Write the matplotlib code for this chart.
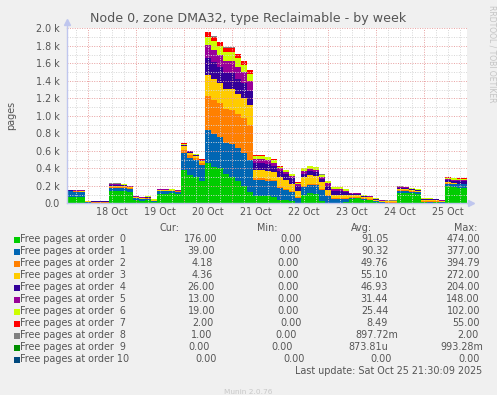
import numpy as np
import matplotlib
matplotlib.use("Agg")
import matplotlib.pyplot as plt
from matplotlib.patches import Rectangle

W, H = 497, 395

# samples every 3 hours, hours counted from 17 Oct 00:00
start_hour = 13.5
step_hours = 3

order0 = [75, 72, 70,
          5, 3, 4, 5,
          140, 138, 135, 130,
          35, 30, 35, 15,
          110, 112, 115, 110,
          380, 320, 300, 260,
          460, 420, 400, 330, 300, 250, 200, 130,
          80, 85, 80, 75,
          40, 35, 25, 5,
          100, 115, 110,
          30, 5, 5, 5, 20,
          50, 55, 40, 35, 15, 5, 3, 4,
          120, 120, 115, 110,
          10, 8, 10, 5,
          195, 190, 180, 176]
order1 = [60, 58, 55,
          5, 4, 5, 4,
          40, 42, 40, 35,
          20, 15, 15, 8,
          25, 25, 22, 20,
          195, 200, 190, 180,
          377, 370, 360, 360, 380, 380, 380, 370,
          190, 185, 180, 175,
          140, 120, 100, 60,
          90, 95, 95,
          120, 80, 40, 45, 30,
          10, 10, 8, 8, 8, 5, 4, 5,
          20, 18, 15, 15,
          8, 8, 8, 5,
          30, 30, 35, 39]
order2 = [5, 5, 6,
          6, 5, 6, 4,
          10, 10, 10, 8,
          8, 6, 8, 5,
          6, 5, 5, 5,
          35, 30, 25, 20,
          394.79, 390, 385, 390, 390, 390, 390, 390,
          15, 20, 20, 15,
          10, 10, 10, 10,
          10, 12, 12,
          10, 10, 10, 10, 10,
          10, 12, 10, 10, 8, 8, 6, 7,
          10, 10, 10, 8,
          10, 10, 10, 8,
          8, 6, 5, 4.18]
order3 = [4, 5, 6,
          8, 6, 5, 6,
          12, 12, 10, 10,
          8, 8, 8, 8,
          6, 6, 5, 5,
          40, 30, 25, 20,
          240, 240, 235, 230, 240, 230, 230, 230,
          95, 95, 90, 90,
          110, 100, 90, 70,
          100, 105, 100,
          80, 60, 40, 40, 35,
          20, 20, 12, 15, 12, 8, 10, 8,
          15, 15, 12, 10,
          15, 15, 12, 10,
          8, 6, 5, 4.36]
order4 = [6, 5, 6,
          2, 3, 2, 3,
          10, 10, 10, 8,
          6, 5, 5, 3,
          6, 6, 5, 5,
          12, 8, 8, 8,
          185, 190, 180, 180, 180, 170, 170, 160,
          85, 80, 80, 75,
          70, 65, 60, 50,
          40, 40, 38,
          40, 45, 45, 40, 30,
          15, 12, 10, 8, 6, 4, 3, 3,
          12, 10, 10, 8,
          6, 6, 5, 4,
          25, 26, 26, 26]
order5 = [3, 3, 4,
          3, 2, 3, 2,
          8, 8, 6, 6,
          4, 3, 4, 3,
          5, 5, 4, 3,
          10, 6, 6, 6,
          148, 145, 140, 140, 140, 140, 130, 120,
          40, 40, 40, 35,
          30, 30, 30, 25,
          30, 28, 28,
          25, 30, 25, 25, 20,
          8, 6, 6, 5, 4, 3, 3, 2,
          8, 8, 6, 5,
          4, 4, 4, 3,
          12, 13, 13, 13]
order6 = [2, 2, 3,
          2, 3, 2, 2,
          4, 5, 5, 4,
          3, 3, 3, 3,
          3, 3, 3, 2,
          8, 6, 6, 5,
          100, 100, 95, 95, 100, 100, 80, 80,
          35, 35, 35, 30,
          20, 20, 20, 15,
          30, 30, 28,
          20, 20, 20, 20, 15,
          6, 6, 5, 5, 3, 3, 3, 3,
          5, 5, 4, 4,
          4, 5, 4, 3,
          15, 17, 18, 19]
order7 = [1, 1, 0,
          0, 0, 0, 0,
          2, 1, 1, 1,
          0, 0, 0, 0,
          1, 1, 1, 0,
          4, 2, 2, 2,
          50, 50, 50, 55, 50, 50, 45, 40,
          8, 8, 8, 6,
          4, 4, 3, 3,
          5, 5, 5,
          4, 4, 5, 5, 3,
          1, 1, 1, 1, 0, 0, 0, 0,
          2, 1, 1, 1,
          0, 1, 0, 0,
          2, 2, 2, 2]
order8 = [1, 1, 1,
          1, 1, 1, 1,
          1, 1, 1, 1,
          1, 1, 1, 1,
          1, 1, 1, 1,
          1, 1, 1, 1,
          2, 2, 2, 2, 2, 2, 2, 2,
          1, 1, 1, 1,
          1, 1, 1, 1,
          1, 1, 1,
          1, 1, 1, 1, 1,
          1, 1, 1, 1, 1, 1, 1, 1,
          1, 1, 1, 1,
          1, 1, 1, 1,
          1, 1, 1, 1]
order9 = [0, 0, 0, 0, 0, 0, 0, 0, 0, 0, 0, 0, 0, 0, 0, 0, 0, 0, 0, 0,
          0, 0, 0, 0, 0, 0, 0, 0, 0, 0, 0, 0, 0, 0, 0, 0, 0, 0, 0, 0,
          0, 0, 0, 0, 0, 0, 0, 0, 0, 0, 0, 0, 0, 0, 0, 0, 0, 0, 0, 0,
          0, 0, 0, 0, 0, 0, 0]
order10 = [0, 0, 0, 0, 0, 0, 0, 0, 0, 0, 0, 0, 0, 0, 0, 0, 0, 0, 0, 0,
           0, 0, 0, 0, 0, 0, 0, 0, 0, 0, 0, 0, 0, 0, 0, 0, 0, 0, 0, 0,
           0, 0, 0, 0, 0, 0, 0, 0, 0, 0, 0, 0, 0, 0, 0, 0, 0, 0, 0, 0,
           0, 0, 0, 0, 0, 0, 0]

names = ["Free pages at order  0", "Free pages at order  1", "Free pages at order  2",
         "Free pages at order  3", "Free pages at order  4", "Free pages at order  5",
         "Free pages at order  6", "Free pages at order  7", "Free pages at order  8",
         "Free pages at order  9", "Free pages at order 10"]
colors = ["#00CC00", "#0066B3", "#FF8000", "#FFCC00", "#330099", "#990099",
          "#CCFF00", "#FF0000", "#808080", "#008F00", "#00487D"]
cur = ["176.00", "39.00", "4.18", "4.36", "26.00", "13.00", "19.00", "2.00", "1.00", "0.00", "0.00"]
mins = ["0.00"] * 11
avg = ["91.05", "90.32", "49.76", "55.10", "46.93", "31.44", "25.44", "8.49", "897.72m", "873.81u", "0.00"]
maxs = ["474.00", "377.00", "394.79", "272.00", "204.00", "148.00", "102.00", "55.00", "2.00", "993.28m", "0.00"]

day_labels = ["18 Oct", "19 Oct", "20 Oct", "21 Oct", "22 Oct", "23 Oct", "24 Oct", "25 Oct"]
y_labels = ["0.0", "0.2 k", "0.4 k", "0.6 k", "0.8 k", "1.0 k", "1.2 k", "1.4 k", "1.6 k", "1.8 k", "2.0 k"]

series = [order0, order1, order2, order3, order4, order5, order6, order7, order8, order9, order10]
n = len(order0)
t = start_hour + step_hours * np.arange(n + 1)
stacks = [np.append(s, s[-1]) for s in series]

txt = "#555555"
axis_col = "#BFC6EE"

fig = plt.figure(figsize=(W / 100, H / 100), dpi=100, facecolor="#F0F0F0")
ax = fig.add_axes([67 / W, 1 - 203.3 / H, 400 / W, 175 / H])
ax.set_facecolor("white")

ax.stackplot(t, *stacks, colors=colors, step="post", linewidth=0, zorder=2)

x0, x1 = 13.5, 213.5
ax.set_xlim(x0, x1)
ax.set_ylim(0, 2000)

# grid: gray every 6 h / 100 pages, red every day / 200 pages
for h in range(18, 214, 6):
    c = "#E8A0A0" if h % 24 == 0 else "#D6D6D6"
    ax.axvline(h, color=c, lw=0.7, ls=(0, (1, 1.5)), zorder=3)
for v in range(100, 2001, 100):
    c = "#E8A0A0" if v % 200 == 0 else "#D6D6D6"
    ax.axhline(v, color=c, lw=0.7, ls=(0, (1, 1.5)), zorder=3)

for s in ["top", "right"]:
    ax.spines[s].set_visible(False)
for s in ["left", "bottom"]:
    ax.spines[s].set_color(axis_col)
    ax.spines[s].set_linewidth(1)
    ax.spines[s].set_zorder(4)
ax.plot([0, 0], [1, 1.035], color=axis_col, lw=1, transform=ax.transAxes, clip_on=False)
ax.plot([0], [1.035], marker="^", ms=4, color=axis_col, transform=ax.transAxes, clip_on=False)
ax.plot([1, 1.01], [0, 0], color=axis_col, lw=1, transform=ax.transAxes, clip_on=False)
ax.plot([1.01], [0], marker=">", ms=4, color=axis_col, transform=ax.transAxes, clip_on=False)

ax.set_yticks(np.arange(0, 2001, 200), y_labels)
ax.set_xticks(np.arange(36, 205, 24), day_labels)
ax.tick_params(axis="y", length=0, pad=5, labelsize=6.9, labelcolor=txt)
ax.tick_params(axis="x", length=0, pad=3, labelsize=6.9, labelcolor=txt)

def fx(x):
    return x / W

def fy(y):
    return 1 - y / H

fig.text(fx(248.5), fy(18.5), "Node 0, zone DMA32, type Reclaimable - by week",
         ha="center", va="center", fontsize=9.1, color=txt)
fig.text(fx(11.5), fy(115.7), "pages", rotation=90, ha="center", va="center",
         fontsize=6.9, color=txt)
fig.text(fx(492), fy(54), "RRDTOOL / TOBI OETIKER", rotation=270, ha="center",
         va="center", fontsize=5.5, color="#C4C4C4")

# legend table
fs = 6.9
for label, right in [("Cur:", 180), ("Min:", 278), ("Avg:", 372), ("Max:", 477)]:
    fig.text(fx(right), fy(227.7), label, ha="right", va="center", fontsize=fs, color=txt)

cur_r = [217, 215, 213, 213, 215, 215, 215, 214, 212, 210, 217]
min_r = [302, 300, 299, 299, 299, 299, 299, 302, 297, 293, 305]
avg_r = [389, 389, 388, 388, 388, 388, 389, 388, 398, 388, 392]
max_r = [480, 480, 480, 480, 480, 480, 480, 480, 479, 483, 480]

for k in range(11):
    y = 239.5 + 12 * k
    fig.add_artist(Rectangle((fx(14), fy(y + 3)), 6 / W, 6 / H, transform=fig.transFigure,
                             facecolor=colors[k], edgecolor="none"))
    fig.text(fx(20.5), fy(y), names[k], ha="left", va="center", fontsize=fs, color=txt)
    fig.text(fx(cur_r[k]), fy(y), cur[k], ha="right", va="center", fontsize=fs, color=txt)
    fig.text(fx(min_r[k]), fy(y), mins[k], ha="right", va="center", fontsize=fs, color=txt)
    fig.text(fx(avg_r[k]), fy(y), avg[k], ha="right", va="center", fontsize=fs, color=txt)
    fig.text(fx(max_r[k]), fy(y), maxs[k], ha="right", va="center", fontsize=fs, color=txt)

fig.text(fx(482.5), fy(371), "Last update: Sat Oct 25 21:30:09 2025", ha="right",
         va="center", fontsize=fs, color=txt)
fig.text(fx(248), fy(392), "Munin 2.0.76", ha="center", va="center", fontsize=5.3,
         color="#C8C8C8")

fig.savefig("out.png", dpi=100, facecolor=fig.get_facecolor())
